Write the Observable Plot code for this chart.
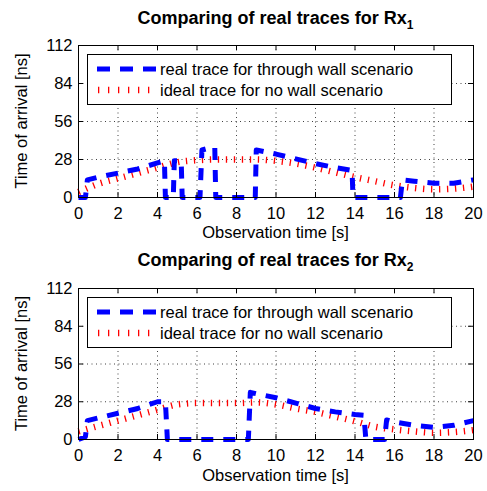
<!DOCTYPE html>
<html><head><meta charset="utf-8">
<script src="https://cdn.jsdelivr.net/npm/d3@7"></script>
<script src="https://cdn.jsdelivr.net/npm/@observablehq/plot@0.6"></script>
<style>
body{margin:0;background:#fff}
#c{position:relative;width:487px;height:491px;overflow:hidden}
#c svg{position:absolute;left:0;overflow:visible}
</style>
</head><body><div id="c"></div>
<script>
// ---- data ----
const xTicks = [0, 2, 4, 6, 8, 10, 12, 14, 16, 18, 20];
const yTicks = [0, 28, 56, 84, 112];
const titles = ["Comparing of real traces for Rx", "Comparing of real traces for Rx"];
const titleSubs = ["1", "2"];
const xLabel = "Observation time [s]";
const yLabel = "Time of arrival [ns]";
const legendLabels = ["real trace for through wall scenario", "ideal trace for no wall scenario"];

const idealT = [0, 1, 2, 3, 4, 5, 6, 7, 8, 9, 10, 11, 12, 13, 14, 15, 16, 17, 18, 19, 20];
const ideal1 = [4, 10, 14, 18, 22, 26, 27.5, 28, 28, 28, 27, 25, 22, 18.5, 15, 12, 9, 7, 6, 6.5, 8];
const ideal2 = [6, 10, 14, 18, 22, 26, 27, 27, 27, 27.5, 26, 23, 20.5, 17, 13.5, 9.5, 7.5, 6, 5, 5.5, 7];

const real1T = [0, 0.35, 0.45, 1, 2, 3, 4, 4.35, 4.4, 4.8, 4.85, 5.2, 5.25, 6.15, 6.25, 6.5, 6.9, 6.95, 8.95, 9.0, 10, 11, 12, 13, 13.85, 13.9, 16.3, 16.4, 17, 18, 19, 20];
const real1Y = [0, 0, 13, 15, 18, 21, 25.5, 27, 0, 0, 27, 27, 0, 0, 35, 36, 37, 0, 0, 35, 32, 28.5, 25, 22, 20, 0, 0, 13, 12, 10.5, 10.5, 13];

const real2T = [0, 0.35, 0.45, 1, 2, 3, 4, 4.4, 4.5, 8.6, 8.7, 9, 10, 11, 12, 13, 14, 14.45, 14.55, 15.5, 15.6, 16, 17, 18, 19, 20];
const real2Y = [0, 2, 14, 16, 19.5, 23, 28, 28, 0, 0, 35, 34, 31, 27, 23, 20.5, 18.5, 18, 0, 0, 14.5, 13, 10.5, 9, 10.5, 14];

// ---- drawing ----
const FONT = "Arial, 'Liberation Sans', Helvetica, sans-serif";
const W = 487, ML = 78, MR = 14;
const BLUE = "#0000ff", RED = "#ff0000";

function panel(idx, top, H, mt, mb, idealY, realT, realY, titleBase, xLabBase) {
  const ideal = idealT.map((t, i) => ({t, y: idealY[i]}));
  const real = realT.map((t, i) => ({t, y: realY[i]}));
  const fh = H - mt - mb;
  const tk = 5;
  const svg = Plot.plot({
    width: W, height: H, marginLeft: ML, marginRight: MR, marginTop: mt, marginBottom: mb,
    x: {domain: [0, 20], ticks: xTicks, label: null},
    y: {domain: [0, 112], ticks: yTicks, label: null},
    style: {fontFamily: FONT, fontSize: "16.5px", color: "black", background: "white", overflow: "visible"},
    marks: [
      Plot.gridX(xTicks, {stroke: "black", strokeOpacity: 0.75, strokeDasharray: "1,3.5"}),
      Plot.gridY(yTicks, {stroke: "black", strokeOpacity: 0.75, strokeDasharray: "1,3.5"}),
      Plot.line(ideal, {x: "t", y: "y", stroke: RED, strokeWidth: 6.5, strokeDasharray: "1.3,6.7", curve: "monotone-x", strokeLinecap: "butt"}),
      Plot.line(real, {x: "t", y: "y", stroke: BLUE, strokeWidth: 5, strokeDasharray: "12,10", strokeLinecap: "butt"}),
      Plot.tickX(xTicks, {x: d => d, stroke: "black", insetTop: fh - tk}),
      Plot.tickX(xTicks, {x: d => d, stroke: "black", insetBottom: fh - tk}),
      Plot.tickY(yTicks, {y: d => d, stroke: "black", insetRight: (W - ML - MR) - tk}),
      Plot.tickY(yTicks, {y: d => d, stroke: "black", insetLeft: (W - ML - MR) - tk}),
      Plot.axisX(xTicks, {tickSize: 0, tickPadding: 10, fontSize: 16.5, label: null}),
      Plot.axisY(yTicks, {tickSize: 0, tickPadding: 6, fontSize: 16.5, label: null}),
      Plot.frame({stroke: "black"})
    ]
  });
  svg.style.top = top + "px";
  const s = d3.select(svg);
  const cx = ML + (W - ML - MR) / 2;
  // title
  const t = s.append("text").attr("x", cx).attr("y", titleBase).attr("text-anchor", "middle")
    .attr("font-family", FONT).attr("font-weight", "bold").attr("font-size", 18).attr("fill", "black");
  t.append("tspan").text(titles[idx]);
  t.append("tspan").attr("font-size", 12).attr("dy", 5).text(titleSubs[idx]);
  // x label
  s.append("text").attr("x", cx).attr("y", xLabBase).attr("text-anchor", "middle")
    .attr("font-family", FONT).attr("font-size", 16.5).attr("fill", "black").text(xLabel);
  // y label
  s.append("text").attr("transform", `translate(27,${mt + fh / 2}) rotate(-90)`).attr("text-anchor", "middle")
    .attr("font-family", FONT).attr("font-size", 16.5).attr("fill", "black").text(yLabel);
  // legend
  const lx = 87, lw = 364, ly = mt + 9, lh = 50;
  const g = s.append("g");
  g.append("rect").attr("x", lx + 0.5).attr("y", ly + 0.5).attr("width", lw).attr("height", lh)
    .attr("fill", "white").attr("stroke", "black").attr("stroke-width", 1);
  const rows = [ly + 15, ly + 36];
  g.append("line").attr("x1", 97).attr("x2", 156).attr("y1", rows[0]).attr("y2", rows[0])
    .attr("stroke", BLUE).attr("stroke-width", 5).attr("stroke-dasharray", "13,10");
  g.append("line").attr("x1", 98).attr("x2", 156).attr("y1", rows[1]).attr("y2", rows[1])
    .attr("stroke", RED).attr("stroke-width", 6.5).attr("stroke-dasharray", "1.3,8.7");
  legendLabels.forEach((lab, i) => {
    g.append("text").attr("x", 160).attr("y", rows[i]).attr("dy", "0.36em").attr("text-anchor", "start")
      .attr("font-family", FONT).attr("font-size", 16.5).attr("fill", "black").text(lab);
  });
  document.getElementById("c").appendChild(svg);
}

panel(0, 0, 245, 45, 48, ideal1, real1T, real1Y, 24, 238);
panel(1, 245, 246, 43, 52, ideal2, real2T, real2Y, 21, 236);
</script>
</body></html>
